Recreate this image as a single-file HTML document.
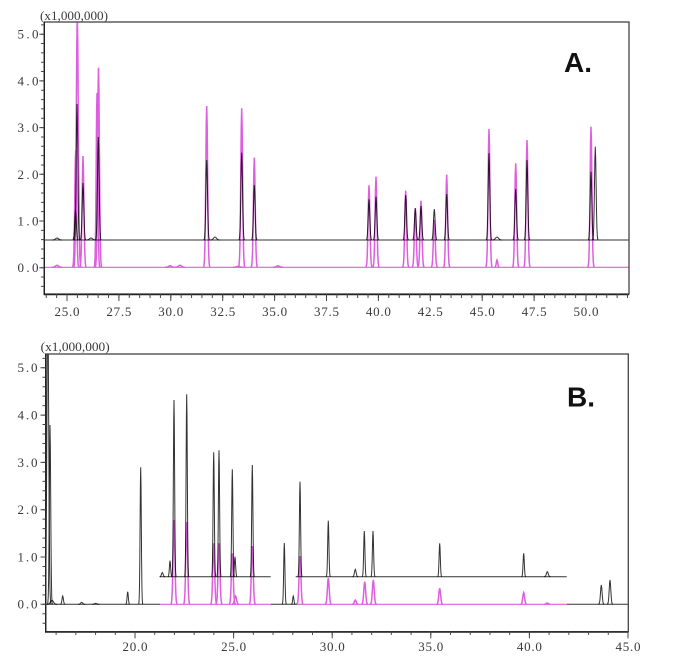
<!DOCTYPE html>
<html>
<head>
<meta charset="utf-8">
<style>
html,body{margin:0;padding:0;background:#fff;}
svg{display:block;}
.lbl{font-family:"Liberation Serif",serif;font-size:13px;fill:#3a3a3a;}
.big{font-family:"Liberation Sans",sans-serif;font-weight:bold;font-size:28px;fill:#111;}
</style>
</head>
<body>
<svg width="690" height="669" viewBox="0 0 690 669" xmlns="http://www.w3.org/2000/svg">
<defs>
<path id="p" d="M-3.5 0L-3 -.011L-2.5 -.044L-2 -.135L-1.5 -.325L-1 -.607L-.5 -.882L0 -1L.5 -.882L1 -.607L1.5 -.325L2 -.135L2.5 -.044L3 -.011L3.5 0" vector-effect="non-scaling-stroke" fill="none"/>
<clipPath id="ca"><rect x="44.3" y="22" width="584.7" height="272"/></clipPath>
<clipPath id="cb"><rect x="45.7" y="354" width="582.6" height="277.7"/></clipPath>
</defs>
<rect width="690" height="669" fill="#fff"/>

<!-- ================= CHART A ================= -->
<g clip-path="url(#ca)">
  <g stroke="#de5ee0" stroke-width="1.5" fill="none">
    <path d="M44.3 267.3H629" vector-effect="non-scaling-stroke" stroke-width="1.2"/>
    <use href="#p" transform="translate(57 267.3) scale(1.5 2)"/>
    <use href="#p" transform="translate(170 267.3) scale(1.5 1.5)"/>
    <use href="#p" transform="translate(180 267.3) scale(1.5 2)"/>
    <use href="#p" transform="translate(238 267.3) scale(1.5 1)"/>
    <use href="#p" transform="translate(278 267.3) scale(1.5 1.5)"/>
    <use href="#p" transform="translate(75.7 267.3) scale(0.9 117.3)"/>
    <use href="#p" transform="translate(77.3 267.3) scale(1 252.3)"/>
    <use href="#p" transform="translate(83 267.3) scale(0.9 111.3)"/>
    <use href="#p" transform="translate(97 267.3) scale(0.8 174.3)"/>
    <use href="#p" transform="translate(98.5 267.3) scale(0.9 199.6)"/>
    <use href="#p" transform="translate(206.7 267.3) scale(0.9 161.3)"/>
    <use href="#p" transform="translate(241.7 267.3) scale(0.9 159)"/>
    <use href="#p" transform="translate(254.3 267.3) scale(0.9 109.6)"/>
    <use href="#p" transform="translate(369 267.3) scale(0.9 82)"/>
    <use href="#p" transform="translate(376 267.3) scale(0.9 90.6)"/>
    <use href="#p" transform="translate(405.7 267.3) scale(0.9 76.6)"/>
    <use href="#p" transform="translate(415.3 267.3) scale(0.9 59.3)"/>
    <use href="#p" transform="translate(421 267.3) scale(0.9 66.6)"/>
    <use href="#p" transform="translate(434.3 267.3) scale(0.9 47.3)"/>
    <use href="#p" transform="translate(446.7 267.3) scale(0.9 92.6)"/>
    <use href="#p" transform="translate(489 267.3) scale(0.9 138.3)"/>
    <use href="#p" transform="translate(497 267.3) scale(0.7 7.3)"/>
    <use href="#p" transform="translate(515.7 267.3) scale(0.9 104)"/>
    <use href="#p" transform="translate(527 267.3) scale(0.9 127.3)"/>
    <use href="#p" transform="translate(591 267.3) scale(0.9 140.6)"/>
  </g>
  <g stroke="#000" stroke-opacity="0.8" stroke-width="1" fill="none">
    <path d="M44.3 240H629" vector-effect="non-scaling-stroke"/>
    <use href="#p" transform="translate(57 240) scale(1.5 2)"/>
    <use href="#p" transform="translate(91 240) scale(1.5 2)"/>
    <use href="#p" transform="translate(215 240) scale(1.5 3)"/>
    <use href="#p" transform="translate(75.5 240) scale(0.8 30)"/>
    <use href="#p" transform="translate(77 240) scale(0.8 136)"/>
    <use href="#p" transform="translate(83 240) scale(0.8 57)"/>
    <use href="#p" transform="translate(98.3 240) scale(0.8 103)"/>
    <use href="#p" transform="translate(206.7 240) scale(0.8 80)"/>
    <use href="#p" transform="translate(241.7 240) scale(0.8 87.3)"/>
    <use href="#p" transform="translate(254.3 240) scale(0.8 55)"/>
    <use href="#p" transform="translate(369 240) scale(0.8 40.7)"/>
    <use href="#p" transform="translate(376 240) scale(0.8 43.3)"/>
    <use href="#p" transform="translate(405.7 240) scale(0.8 45)"/>
    <use href="#p" transform="translate(415.3 240) scale(0.8 31.7)"/>
    <use href="#p" transform="translate(421 240) scale(0.8 34)"/>
    <use href="#p" transform="translate(434.3 240) scale(0.8 31)"/>
    <use href="#p" transform="translate(446.7 240) scale(0.8 46)"/>
    <use href="#p" transform="translate(489 240) scale(0.8 87)"/>
    <use href="#p" transform="translate(497 240) scale(1.5 3)"/>
    <use href="#p" transform="translate(515.7 240) scale(0.8 51)"/>
    <use href="#p" transform="translate(527 240) scale(0.8 80)"/>
    <use href="#p" transform="translate(591 240) scale(0.8 68.3)"/>
    <use href="#p" transform="translate(595.3 240) scale(0.8 93.3)"/>
  </g>
</g>
<rect x="44.3" y="22" width="584.7" height="272" fill="none" stroke="#444" stroke-width="1.3"/>
<path d="M44.3 22V294.5H629" fill="none" stroke="#222" stroke-width="1.4"/>
<g stroke="#444" fill="none">
  <line x1="45.74" y1="296" x2="630" y2="296" stroke-width="4" stroke-dasharray="1 9.38"/>
  <line x1="66.5" y1="297.5" x2="590" y2="297.5" stroke-width="7" stroke-dasharray="1 50.9"/>
  <line x1="42.65" y1="24.36" x2="42.65" y2="290" stroke-width="3.3" stroke-dasharray="1 8.34"/>
  <line x1="41.8" y1="33.7" x2="41.8" y2="270" stroke-width="5" stroke-dasharray="1 45.7"/>
</g>
<text class="lbl" x="40" y="20" font-size="12" textLength="68" lengthAdjust="spacingAndGlyphs">(x1,000,000)</text>
<g class="lbl" text-anchor="end">
  <text x="38.5" y="38.7" textLength="21" lengthAdjust="spacing">5.0</text>
  <text x="38.5" y="85.4" textLength="21" lengthAdjust="spacing">4.0</text>
  <text x="38.5" y="132.1" textLength="21" lengthAdjust="spacing">3.0</text>
  <text x="38.5" y="178.8" textLength="21" lengthAdjust="spacing">2.0</text>
  <text x="38.5" y="225.5" textLength="21" lengthAdjust="spacing">1.0</text>
  <text x="38.5" y="272.2" textLength="21" lengthAdjust="spacing">0.0</text>
</g>
<g class="lbl" text-anchor="middle">
  <text x="67" y="316" textLength="25" lengthAdjust="spacing">25.0</text>
  <text x="118.9" y="316" textLength="25" lengthAdjust="spacing">27.5</text>
  <text x="170.8" y="316" textLength="25" lengthAdjust="spacing">30.0</text>
  <text x="222.7" y="316" textLength="25" lengthAdjust="spacing">32.5</text>
  <text x="274.6" y="316" textLength="25" lengthAdjust="spacing">35.0</text>
  <text x="326.5" y="316" textLength="25" lengthAdjust="spacing">37.5</text>
  <text x="378.4" y="316" textLength="25" lengthAdjust="spacing">40.0</text>
  <text x="430.3" y="316" textLength="25" lengthAdjust="spacing">42.5</text>
  <text x="482.2" y="316" textLength="25" lengthAdjust="spacing">45.0</text>
  <text x="534.1" y="316" textLength="25" lengthAdjust="spacing">47.5</text>
  <text x="586" y="316" textLength="25" lengthAdjust="spacing">50.0</text>
</g>
<text class="big" x="564" y="72">A.</text>

<!-- ================= CHART B ================= -->
<g clip-path="url(#cb)">
  <g stroke="#de5ee0" stroke-width="1.5" fill="none">
    <path d="M160 604.3H270.7M297 604.3H566.7" vector-effect="non-scaling-stroke" stroke-width="1.2"/>
    <use href="#p" transform="translate(174 604.3) scale(0.9 84.3)"/>
    <use href="#p" transform="translate(186.7 604.3) scale(0.9 82.3)"/>
    <use href="#p" transform="translate(213.7 604.3) scale(0.9 61)"/>
    <use href="#p" transform="translate(219 604.3) scale(0.9 61)"/>
    <use href="#p" transform="translate(232.3 604.3) scale(0.9 51)"/>
    <use href="#p" transform="translate(235.5 604.3) scale(1 8.3)"/>
    <use href="#p" transform="translate(252.3 604.3) scale(0.9 58.3)"/>
    <use href="#p" transform="translate(300 604.3) scale(0.9 48.3)"/>
    <use href="#p" transform="translate(328.3 604.3) scale(0.9 26.3)"/>
    <use href="#p" transform="translate(355.3 604.3) scale(0.9 4.3)"/>
    <use href="#p" transform="translate(364.7 604.3) scale(0.9 22.6)"/>
    <use href="#p" transform="translate(373.3 604.3) scale(0.9 24.3)"/>
    <use href="#p" transform="translate(439.7 604.3) scale(0.9 16)"/>
    <use href="#p" transform="translate(523.7 604.3) scale(0.9 11.6)"/>
    <use href="#p" transform="translate(547.3 604.3) scale(0.9 1.3)"/>
  </g>
  <g stroke="#000" stroke-opacity="0.8" stroke-width="1" fill="none">
    <path d="M45.7 604.3H160M270.7 604.3H297M566.7 604.3H628.3M160 576.7H270.7M295.7 576.7H566.7" vector-effect="non-scaling-stroke"/>
    <use href="#p" transform="translate(47.8 604.3) scale(0.9 300)"/>
    <use href="#p" transform="translate(50 604.3) scale(0.7 179.3)"/>
    <use href="#p" transform="translate(52 604.3) scale(1.5 4)"/>
    <use href="#p" transform="translate(62.7 604.3) scale(0.7 8.3)"/>
    <use href="#p" transform="translate(81.7 604.3) scale(1 2)"/>
    <use href="#p" transform="translate(95.7 604.3) scale(1 1)"/>
    <use href="#p" transform="translate(127.7 604.3) scale(0.6 12.6)"/>
    <use href="#p" transform="translate(140.7 604.3) scale(0.6 137)"/>
    <use href="#p" transform="translate(284.3 604.3) scale(0.6 61.3)"/>
    <use href="#p" transform="translate(293.3 604.3) scale(0.6 8.3)"/>
    <use href="#p" transform="translate(601.3 604.3) scale(0.8 19.3)"/>
    <use href="#p" transform="translate(610 604.3) scale(0.8 24.3)"/>
    <use href="#p" transform="translate(162.3 576.7) scale(0.8 4.2)"/>
    <use href="#p" transform="translate(170 576.7) scale(0.6 16)"/>
    <use href="#p" transform="translate(174 576.7) scale(0.6 176.7)"/>
    <use href="#p" transform="translate(186.7 576.7) scale(0.6 182.4)"/>
    <use href="#p" transform="translate(213.7 576.7) scale(0.6 124.4)"/>
    <use href="#p" transform="translate(219 576.7) scale(0.6 126.4)"/>
    <use href="#p" transform="translate(232.3 576.7) scale(0.6 107.4)"/>
    <use href="#p" transform="translate(235 576.7) scale(0.6 20)"/>
    <use href="#p" transform="translate(252.3 576.7) scale(0.6 111.7)"/>
    <use href="#p" transform="translate(300 576.7) scale(0.6 95)"/>
    <use href="#p" transform="translate(328.3 576.7) scale(0.6 56)"/>
    <use href="#p" transform="translate(355.3 576.7) scale(0.8 7.4)"/>
    <use href="#p" transform="translate(364.3 576.7) scale(0.6 45.7)"/>
    <use href="#p" transform="translate(373 576.7) scale(0.6 45.7)"/>
    <use href="#p" transform="translate(439.7 576.7) scale(0.6 33.4)"/>
    <use href="#p" transform="translate(523.7 576.7) scale(0.6 23.4)"/>
    <use href="#p" transform="translate(547.3 576.7) scale(0.9 5)"/>
  </g>
</g>
<rect x="45.7" y="354" width="582.6" height="277.7" fill="none" stroke="#444" stroke-width="1.3"/>
<path d="M45.7 354V632H628.3" fill="none" stroke="#222" stroke-width="1.4"/>
<g stroke="#444" fill="none">
  <line x1="55.62" y1="633.2" x2="629" y2="633.2" stroke-width="3.3" stroke-dasharray="1 18.72"/>
  <line x1="134.5" y1="635" x2="630" y2="635" stroke-width="6.7" stroke-dasharray="1 97.6"/>
  <line x1="44.1" y1="357.84" x2="44.1" y2="625" stroke-width="3.2" stroke-dasharray="1 8.46"/>
  <line x1="43.1" y1="367.3" x2="43.1" y2="606" stroke-width="5.2" stroke-dasharray="1 46.3"/>
</g>
<text class="lbl" x="40.7" y="351" font-size="12" textLength="69" lengthAdjust="spacingAndGlyphs">(x1,000,000)</text>
<g class="lbl" text-anchor="end">
  <text x="37.5" y="372.2" textLength="20" lengthAdjust="spacing">5.0</text>
  <text x="37.5" y="419.5" textLength="20" lengthAdjust="spacing">4.0</text>
  <text x="37.5" y="466.8" textLength="20" lengthAdjust="spacing">3.0</text>
  <text x="37.5" y="514.1" textLength="20" lengthAdjust="spacing">2.0</text>
  <text x="37.5" y="561.4" textLength="20" lengthAdjust="spacing">1.0</text>
  <text x="37.5" y="608.7" textLength="20" lengthAdjust="spacing">0.0</text>
</g>
<g class="lbl" text-anchor="middle">
  <text x="135" y="651" textLength="25" lengthAdjust="spacing">20.0</text>
  <text x="233.6" y="651" textLength="25" lengthAdjust="spacing">25.0</text>
  <text x="332.2" y="651" textLength="25" lengthAdjust="spacing">30.0</text>
  <text x="430.8" y="651" textLength="25" lengthAdjust="spacing">35.0</text>
  <text x="529.4" y="651" textLength="25" lengthAdjust="spacing">40.0</text>
  <text x="628" y="651" textLength="25" lengthAdjust="spacing">45.0</text>
</g>
<text class="big" x="567" y="406.7">B.</text>
</svg>
</body>
</html>
